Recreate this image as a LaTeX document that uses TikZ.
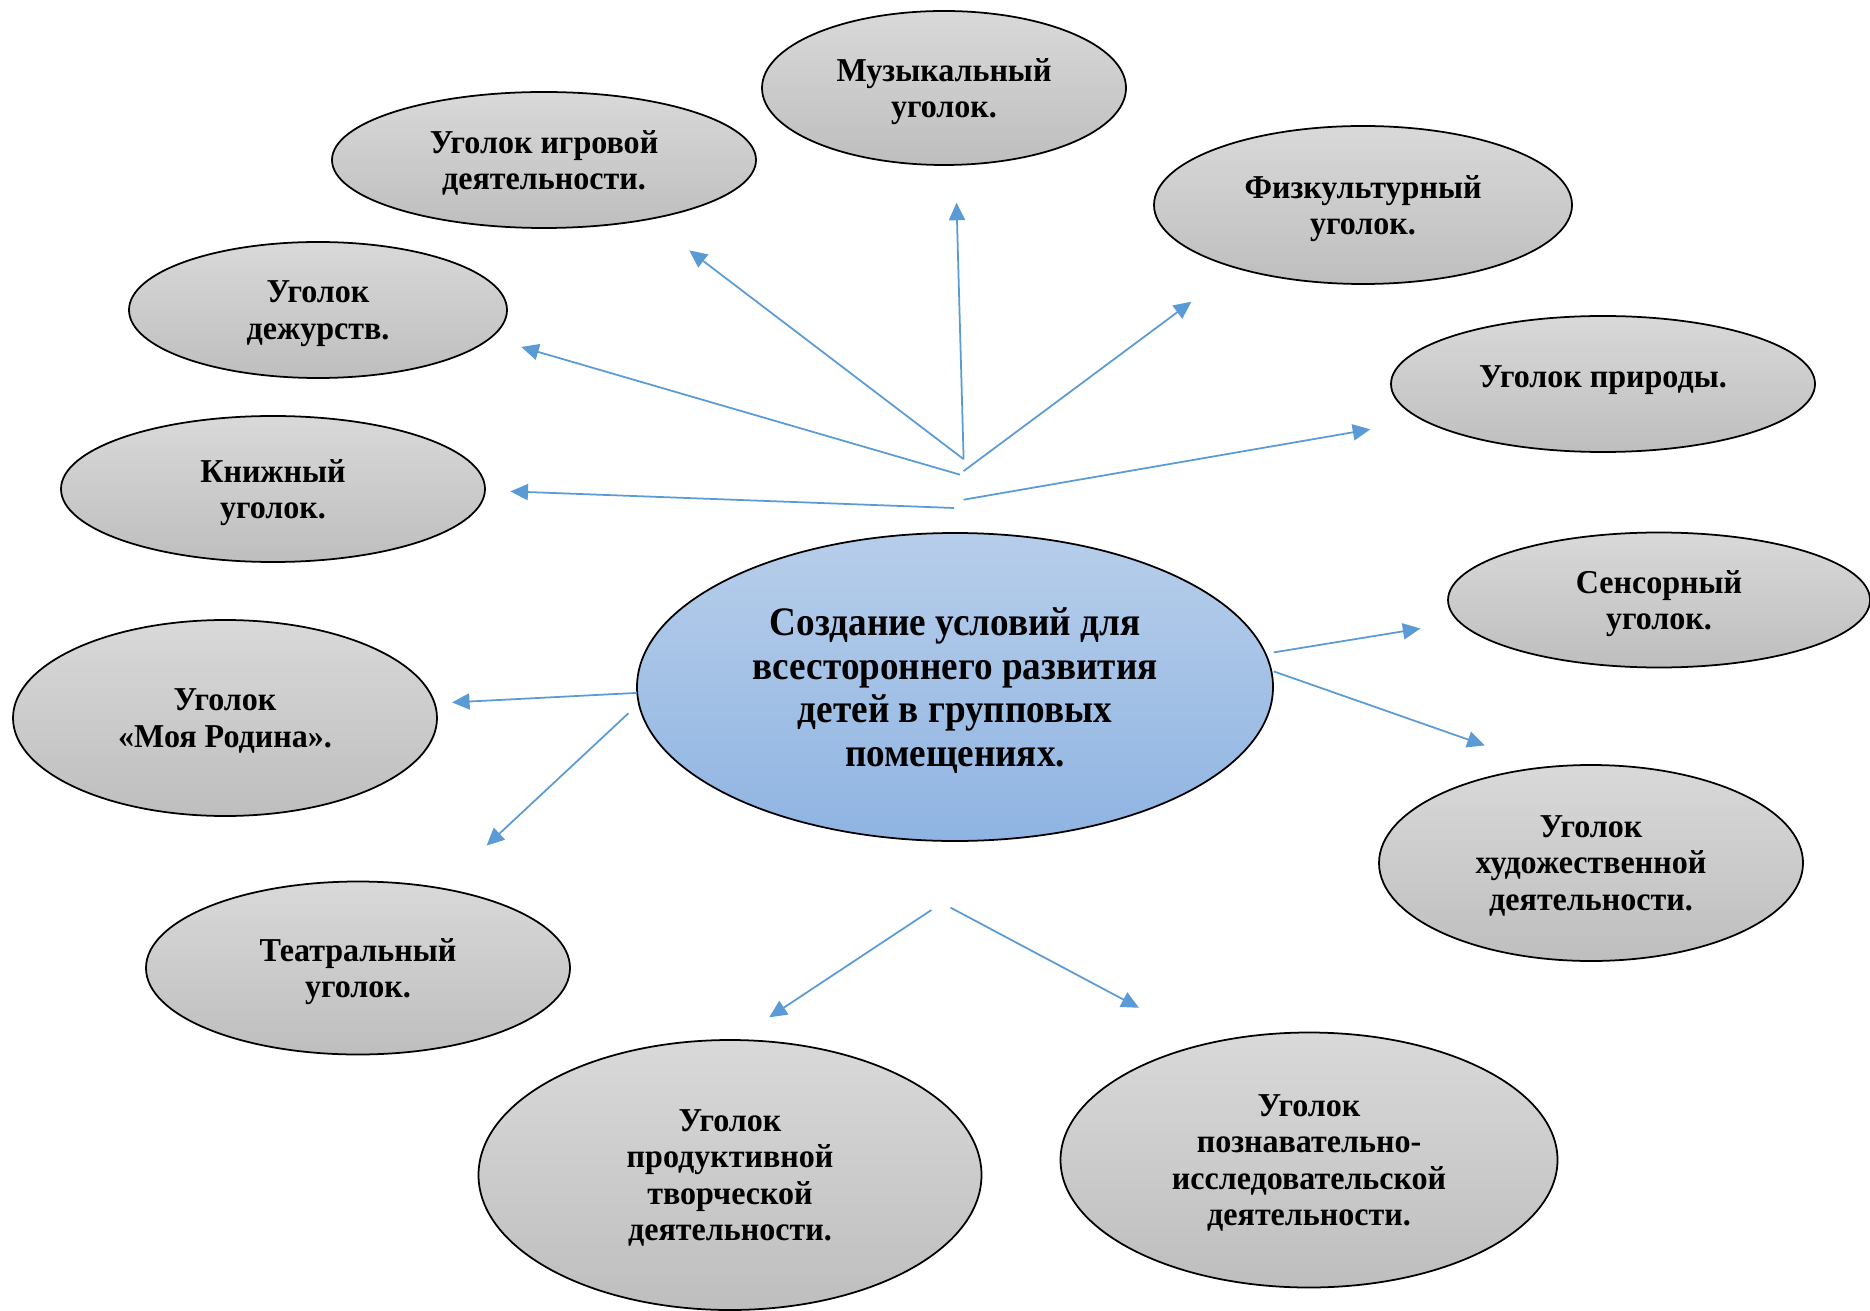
\documentclass[tikz,border=0pt]{standalone}
\usepackage{fontspec}
\setmainfont[FakeStretch=0.96]{Liberation Serif}
\newfontfamily\hubfont[FakeStretch=0.92]{Liberation Serif}
\usetikzlibrary{shapes.geometric, arrows.meta}
\definecolor{greytop}{RGB}{217, 217, 217}
\definecolor{greybottom}{RGB}{190, 190, 190}
\definecolor{bluetop}{RGB}{183, 206, 234}
\definecolor{bluebottom}{RGB}{143, 180, 226}
\definecolor{arrowblue}{RGB}{91, 155, 213}

\begin{document}
\begin{tikzpicture}[
        x=0.1mm, y=-0.1mm,
        corner/.style={ellipse, draw=black, line width=0.5pt, inner sep=0pt,
            top color=greytop, bottom color=greybottom, align=center,
            font=\fontsize{9.5}{10.4}\selectfont\bfseries, text depth=0pt},
        hub/.style={corner, top color=bluetop, bottom color=bluebottom,
            font=\hubfont\fontsize{11.5}{12.4}\selectfont\bfseries},
        arrow/.style={-{Triangle[length=5pt, width=4.6pt]}, line width=0.5pt, color=arrowblue}
        ]
        \useasboundingbox (0,0) rectangle (1870,1310);

        % central node
        \node[hub, minimum width=63.6mm, minimum height=30.8mm] (hub) at (955,687)
            {Создание условий для\\всестороннего развития\\детей в групповых\\помещениях.};

        % corners round it
        \node[corner, minimum width=36.4mm, minimum height=15.4mm] (music) at (944,88) {Музыкальный\\уголок.};
        \node[corner, minimum width=42.4mm, minimum height=13.6mm] (play) at (544,160) {Уголок игровой\\деятельности.};
        \node[corner, minimum width=41.8mm, minimum height=15.8mm] (sport) at (1363,205) {Физкультурный\\уголок.};
        \node[corner, minimum width=37.8mm, minimum height=13.6mm] (duty) at (318,310) {Уголок\\дежурств.};
        \node[corner, minimum width=42.4mm, minimum height=13.6mm, text depth=4.5pt] (nature) at (1603,384) {Уголок природы.};
        \node[corner, minimum width=42.4mm, minimum height=14.6mm] (books) at (273,489) {Книжный\\уголок.};
        \node[corner, minimum width=42.2mm, minimum height=13.5mm] (sensor) at (1659,600) {Сенсорный\\уголок.};
        \node[corner, minimum width=42.4mm, minimum height=19.6mm, text depth=-2pt] (homeland) at (225,718) {Уголок\\«Моя Родина».};
        \node[corner, minimum width=42.4mm, minimum height=19.6mm] (art) at (1591,863) {Уголок\\художественной\\деятельности.};
        \node[corner, minimum width=42.4mm, minimum height=17.3mm] (theatre) at (358,968) {Театральный\\уголок.};
        \node[corner, minimum width=50.3mm, minimum height=27mm] (craft) at (730,1175) {Уголок\\продуктивной\\творческой\\деятельности.};
        \node[corner, minimum width=49.7mm, minimum height=25.5mm] (research) at (1309,1160) {Уголок\\познавательно-\\исследовательской\\деятельности.};

        % free ends of the arrows
        \coordinate (musicfrom) at (963.6,459.2);
        \coordinate (musicto) at (956.5,202.7);
        \coordinate (playfrom) at (963.6,459.2);
        \coordinate (playto) at (689.3,250.4);
        \coordinate (sportfrom) at (963.6,471.1);
        \coordinate (sportto) at (1191.4,301.7);
        \coordinate (dutyfrom) at (960,474.7);
        \coordinate (dutyto) at (521.2,347);
        \coordinate (booksfrom) at (954.1,508);
        \coordinate (booksto) at (510.4,491.4);
        \coordinate (naturefrom) at (963.6,499.7);
        \coordinate (natureto) at (1370.3,429.3);
        \coordinate (sensorfrom) at (1273.7,652.4);
        \coordinate (sensorto) at (1420.4,628.5);
        \coordinate (artfrom) at (1273.7,671.4);
        \coordinate (artto) at (1484.8,745.4);
        \coordinate (homelandfrom) at (636.9,692.9);
        \coordinate (homelandto) at (452,702.4);
        \coordinate (theatrefrom) at (628.5,713.2);
        \coordinate (theatreto) at (486.6,845.6);
        \coordinate (craftfrom) at (931.4,910);
        \coordinate (craftto) at (769.2,1017.3);
        \coordinate (researchfrom) at (950.5,907.6);
        \coordinate (researchto) at (1138.9,1007.8);

        \draw[arrow] (musicfrom) -- (musicto);
        \draw[arrow] (playfrom) -- (playto);
        \draw[arrow] (sportfrom) -- (sportto);
        \draw[arrow] (dutyfrom) -- (dutyto);
        \draw[arrow] (booksfrom) -- (booksto);
        \draw[arrow] (naturefrom) -- (natureto);
        \draw[arrow] (sensorfrom) -- (sensorto);
        \draw[arrow] (artfrom) -- (artto);
        \draw[arrow] (homelandfrom) -- (homelandto);
        \draw[arrow] (theatrefrom) -- (theatreto);
        \draw[arrow] (craftfrom) -- (craftto);
        \draw[arrow] (researchfrom) -- (researchto);
    \end{tikzpicture}
\end{document}
